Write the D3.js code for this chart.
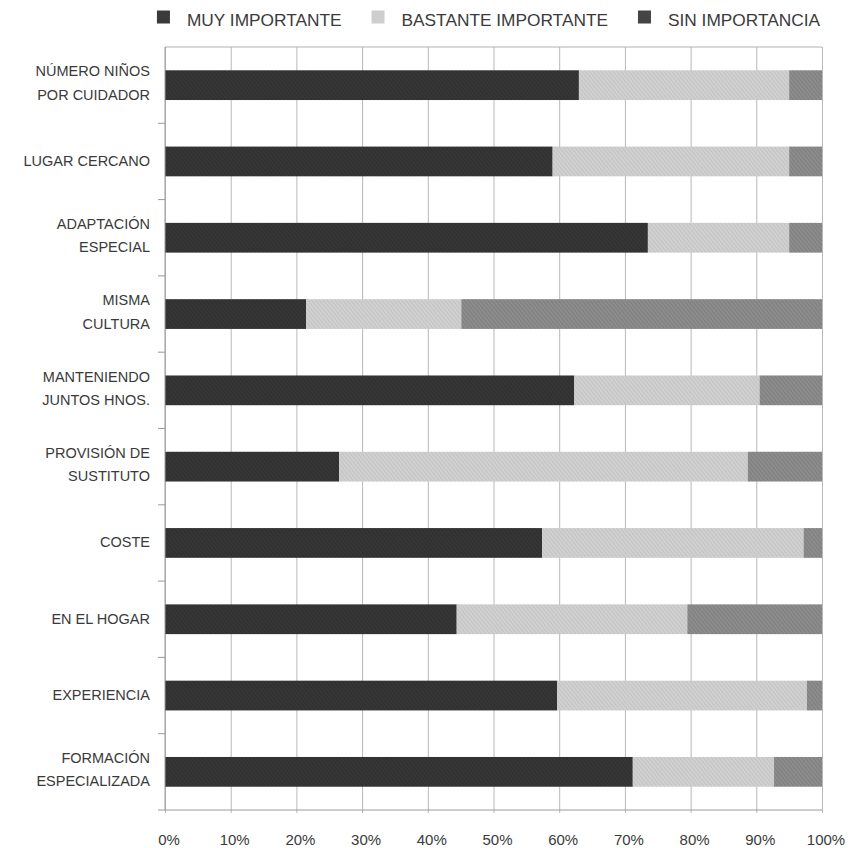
<!DOCTYPE html>
<html>
<head>
<meta charset="utf-8">
<script src="https://cdn.jsdelivr.net/npm/d3@7"></script>
<style>
  html, body { margin: 0; padding: 0; background: #fff; }
  svg { display: block; }
  text { font-family: "Liberation Sans", Arial, Helvetica, sans-serif; fill: #3a3a3a; }
</style>
</head>
<body>
<svg id="chart" width="850" height="848"></svg>
<script>
// Categories (top to bottom); each entry holds the lines of its label
const categories = [
  ["NÚMERO NIÑOS", "POR CUIDADOR"],
  ["LUGAR CERCANO"],
  ["ADAPTACIÓN", "ESPECIAL"],
  ["MISMA", "CULTURA"],
  ["MANTENIENDO", "JUNTOS HNOS."],
  ["PROVISIÓN DE", "SUSTITUTO"],
  ["COSTE"],
  ["EN EL HOGAR"],
  ["EXPERIENCIA"],
  ["FORMACIÓN", "ESPECIALIZADA"]
];

// Percentages per answer
const muyImportante      = [63.0, 59.0, 73.5, 21.5, 62.3, 26.5, 57.4, 44.4, 59.7, 71.2];
const bastanteImportante = [32.0, 36.0, 21.5, 23.6, 28.2, 62.2, 39.8, 35.1, 38.0, 21.5];
const sinImportancia     = [ 5.0,  5.0,  5.0, 54.9,  9.5, 11.3,  2.8, 20.5,  2.3,  7.3];

const seriesNames = ["MUY IMPORTANTE", "BASTANTE IMPORTANTE", "SIN IMPORTANCIA"];
const xTickValues = [0, 10, 20, 30, 40, 50, 60, 70, 80, 90, 100];

const svg = d3.select("#chart");
const margin = { top: 47, right: 28, bottom: 38, left: 165 };
const W = 850, H = 848;
const innerW = W - margin.left - margin.right;
const innerH = H - margin.top - margin.bottom;

// Fine diagonal screen texture for the bar fills
const defs = svg.append("defs");
const fills = [
  { id: "fill-muy", base: "#363636", line: "#2e2e2e" },
  { id: "fill-bastante", base: "#d0d0d0", line: "#c3c3c3" },
  { id: "fill-sin", base: "#8c8c8c", line: "#7f7f7f" }
];
fills.forEach(f => {
  const p = defs.append("pattern")
    .attr("id", f.id)
    .attr("patternUnits", "userSpaceOnUse")
    .attr("width", 3).attr("height", 3)
    .attr("patternTransform", "rotate(-40)");
  p.append("rect").attr("width", 3).attr("height", 3).attr("fill", f.base);
  p.append("rect").attr("width", 1).attr("height", 3).attr("fill", f.line);
});
const fillUrl = ["url(#fill-muy)", "url(#fill-bastante)", "url(#fill-sin)"];
const legendColors = ["#3a3a3a", "#cecece", "#444444"];

// Stacked layout
const rows = categories.map((c, i) => ({
  key: i,
  muy: muyImportante[i],
  bastante: bastanteImportante[i],
  sin: sinImportancia[i]
}));
const stack = d3.stack().keys(["muy", "bastante", "sin"]);
const stacked = stack(rows);

const x = d3.scaleLinear().domain([0, 100]).range([0, innerW]);
const y = d3.scaleBand()
  .domain(d3.range(categories.length))
  .range([0, innerH])
  .paddingInner(0.61)
  .paddingOuter(0.305);

const g = svg.append("g").attr("transform", `translate(${margin.left},${margin.top})`);

// Vertical gridlines, running slightly below the baseline as tick marks
g.append("g")
  .attr("class", "grid")
  .call(d3.axisBottom(x).tickValues(xTickValues).tickSize(innerH + 3).tickFormat(""))
  .call(a => a.selectAll(".tick line").attr("y1", 0).attr("y2", innerH + 3)
    .attr("stroke", "#b8b8b8").attr("stroke-width", 1))
  .call(a => a.select(".domain").remove());

// Frame top line and baseline
g.append("line").attr("x1", 0).attr("x2", innerW).attr("y1", 0).attr("y2", 0)
  .attr("stroke", "#b0b0b0");
g.append("line").attr("x1", 0).attr("x2", innerW).attr("y1", innerH).attr("y2", innerH)
  .attr("stroke", "#9a9a9a");

// Bars
g.append("g").selectAll("g")
  .data(stacked)
  .join("g")
  .attr("fill", (d, i) => fillUrl[i])
  .selectAll("rect")
  .data(d => d)
  .join("rect")
  .attr("x", d => x(d[0]))
  .attr("width", d => x(d[1]) - x(d[0]))
  .attr("y", (d, i) => y(i))
  .attr("height", y.bandwidth());

// Left axis: line plus ticks at the band boundaries
g.append("line").attr("x1", 0).attr("x2", 0).attr("y1", 0).attr("y2", innerH)
  .attr("stroke", "#9a9a9a");
const boundaries = d3.range(1, categories.length + 1).map(i => i * y.step());
g.append("g").selectAll("line")
  .data(boundaries)
  .join("line")
  .attr("x1", -7).attr("x2", 0)
  .attr("y1", d => d).attr("y2", d => d)
  .attr("stroke", "#9a9a9a");

// Category labels
const labelX = -15;
const labels = g.append("g").selectAll("text")
  .data(categories)
  .join("text")
  .attr("text-anchor", "end")
  .attr("font-size", 14.5)
  .attr("x", labelX);
labels.each(function (lines, i) {
  const cy = y(i) + y.bandwidth() / 2;
  const offsets = lines.length === 1 ? [4.5] : [-8.7, 14.6];
  d3.select(this).selectAll("tspan")
    .data(lines)
    .join("tspan")
    .attr("x", labelX)
    .attr("y", (l, j) => cy + offsets[j])
    .text(l => l);
});

// Percentage axis labels
g.append("g").selectAll("text")
  .data(xTickValues)
  .join("text")
  .attr("text-anchor", "middle")
  .attr("font-size", 15)
  .attr("x", d => x(d) + 4)
  .attr("y", innerH + 35)
  .text(d => d + "%");

// Legend, right-aligned to the plot edge
const legend = svg.append("g").attr("class", "legend");
const legendFont = 17.3, sq = 13, gapSq = 17, gapItem = 30;
let cursor = 820;
const items = seriesNames.map((name, i) => ({ name, i })).reverse();
items.forEach(it => {
  const t = legend.append("text")
    .attr("font-size", legendFont)
    .attr("y", 25.5)
    .attr("text-anchor", "end")
    .attr("x", cursor)
    .text(it.name);
  const w = t.node().getComputedTextLength();
  const sx = cursor - w - gapSq - sq;
  legend.append("rect")
    .attr("x", sx).attr("y", 10.5)
    .attr("width", sq).attr("height", sq)
    .attr("fill", legendColors[it.i]);
  cursor = sx - gapItem;
});
</script>
</body>
</html>
